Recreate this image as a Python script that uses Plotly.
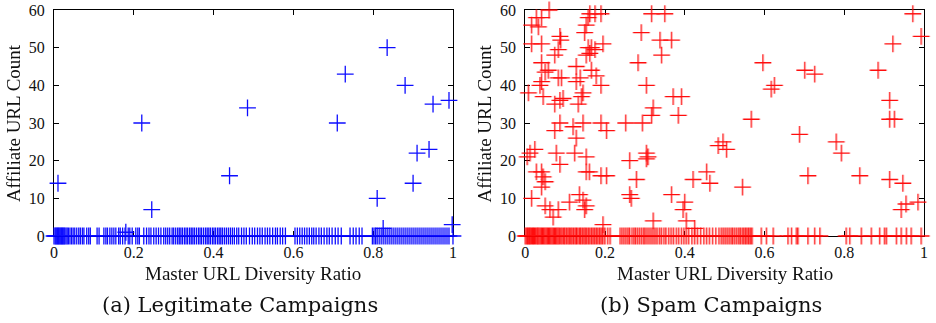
import plotly.graph_objects as go
from plotly.subplots import make_subplots

# ---- data ----
x_ticks = [0, 0.2, 0.4, 0.6, 0.8, 1]
x_tick_labels = ["0", "0.2", "0.4", "0.6", "0.8", "1"]
y_ticks = [0, 10, 20, 30, 40, 50, 60]

legit_x = [0.01, 0.18, 0.22, 0.245, 0.44, 0.485, 0.71, 0.73, 0.81, 0.825, 0.835,
           0.88, 0.90, 0.91, 0.94, 0.95, 0.99, 0.998]
legit_y = [14, 1, 30, 7, 16, 34, 30, 43, 10, 2, 50, 40, 14, 22, 23, 35, 36, 3]
legit_zero_x = [0.0, 0.003, 0.005, 0.007, 0.009, 0.011, 0.013, 0.015, 0.017, 0.019, 0.021,
                0.023, 0.025, 0.027, 0.03, 0.033, 0.036, 0.04, 0.044, 0.048, 0.052, 0.057,
                0.062, 0.066, 0.071, 0.075, 0.082, 0.087, 0.091, 0.108, 0.113, 0.125, 0.13,
                0.134, 0.14, 0.145, 0.15, 0.155, 0.162, 0.166, 0.172, 0.178, 0.186, 0.19,
                0.196, 0.205, 0.21, 0.214, 0.225, 0.232, 0.238, 0.243, 0.25, 0.256, 0.262,
                0.268, 0.275, 0.28, 0.285, 0.29, 0.296, 0.3, 0.305, 0.31, 0.314, 0.318,
                0.322, 0.327, 0.331, 0.335, 0.34, 0.344, 0.348, 0.352, 0.357, 0.362, 0.366,
                0.37, 0.375, 0.38, 0.384, 0.388, 0.392, 0.397, 0.401, 0.405, 0.41, 0.414,
                0.418, 0.422, 0.427, 0.432, 0.437, 0.442, 0.447, 0.452, 0.458, 0.463, 0.47,
                0.476, 0.482, 0.49, 0.497, 0.503, 0.51, 0.516, 0.522, 0.529, 0.535, 0.541,
                0.548, 0.555, 0.56, 0.567, 0.573, 0.58, 0.604, 0.61, 0.616, 0.622, 0.628,
                0.634, 0.64, 0.646, 0.651, 0.657, 0.664, 0.67, 0.677, 0.684, 0.69, 0.697,
                0.705, 0.712, 0.72, 0.742, 0.75, 0.757, 0.765, 0.772, 0.798, 0.802, 0.806,
                0.81, 0.815, 0.82, 0.825, 0.83, 0.835, 0.84, 0.845, 0.85, 0.855, 0.86,
                0.865, 0.87, 0.875, 0.88, 0.885, 0.89, 0.895, 0.9, 0.905, 0.91, 0.915,
                0.92, 0.925, 0.93, 0.935, 0.94, 0.945, 0.95, 0.955, 0.96, 0.965, 0.97,
                0.975, 0.98, 0.985, 0.99, 1.0]

spam_x = [0.06, 0.028, 0.041, 0.016, 0.033, 0.016, 0.041, 0.041, 0.058, 0.05, 0.041,
          0.037, 0.045, 0.008, 0.012, 0.024, 0.005, 0.016, 0.028, 0.041, 0.045, 0.05,
          0.041, 0.05, 0.062, 0.07, 0.074, 0.083, 0.087, 0.089, 0.083, 0.091, 0.087,
          0.095, 0.074, 0.074, 0.087, 0.078, 0.087, 0.083, 0.12, 0.128, 0.124, 0.128,
          0.138, 0.128, 0.145, 0.141, 0.133, 0.145, 0.153, 0.153, 0.161, 0.136, 0.145,
          0.153, 0.149, 0.111, 0.153, 0.149, 0.158, 0.162, 0.175, 0.19, 0.158, 0.166,
          0.175, 0.153, 0.162, 0.166, 0.178, 0.19, 0.195, 0.19, 0.204, 0.19, 0.204,
          0.195, 0.252, 0.262, 0.262, 0.266, 0.279, 0.283, 0.291, 0.294, 0.304, 0.304,
          0.308, 0.304, 0.317, 0.321, 0.317, 0.35, 0.338, 0.367, 0.342, 0.321, 0.367,
          0.371, 0.392, 0.384, 0.4, 0.396, 0.404, 0.425, 0.421, 0.455, 0.463, 0.484,
          0.496, 0.505, 0.545, 0.567, 0.596, 0.617, 0.625, 0.688, 0.701, 0.726, 0.709,
          0.78, 0.793, 0.839, 0.885, 0.914, 0.914, 0.926, 0.922, 0.914, 0.947, 0.943,
          0.955, 0.985, 0.972, 0.993]
spam_y = [60, 58, 58, 56, 55.5, 51, 51, 46, 44, 43.5, 41, 40, 37, 38, 22, 23, 21, 10,
          17, 17, 15.7, 14.4, 13, 8, 7, 5, 48, 49.5, 53, 52, 42, 42, 36, 36.5, 35, 28,
          30, 22, 19, 7, 29, 26, 22, 45, 42, 41, 38, 37, 35, 30, 21, 17, 17, 11, 9.5,
          8, 7, 9, 56, 54, 58, 59, 59, 59, 50, 50, 49.5, 48, 48.5, 44, 42.5, 40, 51,
          30, 28, 16, 16, 3, 30, 20, 11, 10, 15, 46, 54, 30, 40, 22, 21, 20.5, 32, 34,
          59, 59, 52, 52, 48, 4, 11, 37, 37, 32, 9, 7, 4, 2, 15, 17, 14, 24, 25, 23,
          13, 31, 46, 39, 40, 27, 44, 43, 16, 25, 22, 16, 44, 36, 31, 31, 51, 15, 14,
          7, 8.5, 9, 59, 53]
spam_zero_x = [0.0, 0.003, 0.006, 0.008, 0.011, 0.013, 0.016, 0.019, 0.021, 0.024, 0.027,
               0.03, 0.032, 0.035, 0.038, 0.041, 0.044, 0.047, 0.05, 0.053, 0.056, 0.059,
               0.062, 0.065, 0.068, 0.071, 0.074, 0.077, 0.08, 0.083, 0.086, 0.09, 0.093,
               0.097, 0.1, 0.104, 0.108, 0.111, 0.115, 0.118, 0.122, 0.126, 0.129, 0.133,
               0.137, 0.14, 0.144, 0.148, 0.151, 0.155, 0.159, 0.163, 0.167, 0.171, 0.175,
               0.179, 0.183, 0.187, 0.191, 0.195, 0.2, 0.207, 0.213, 0.238, 0.243, 0.248,
               0.253, 0.258, 0.262, 0.268, 0.273, 0.277, 0.282, 0.287, 0.292, 0.297, 0.301,
               0.306, 0.311, 0.316, 0.321, 0.326, 0.331, 0.337, 0.342, 0.348, 0.353, 0.36,
               0.366, 0.372, 0.379, 0.385, 0.392, 0.398, 0.404, 0.41, 0.418, 0.425, 0.432,
               0.44, 0.448, 0.455, 0.462, 0.47, 0.478, 0.486, 0.492, 0.497, 0.502, 0.507,
               0.512, 0.517, 0.521, 0.526, 0.531, 0.536, 0.54, 0.545, 0.549, 0.553, 0.557,
               0.561, 0.565, 0.569, 0.592, 0.605, 0.622, 0.659, 0.668, 0.68, 0.684, 0.709,
               0.726, 0.739, 0.805, 0.814, 0.843, 0.868, 0.889, 0.901, 0.906, 0.931, 0.943,
               0.956, 0.968, 0.993]

x_title = "Master URL Diversity Ratio"
y_title = "Affiliate URL Count"
captions = ["(a) Legitimate Campaigns", "(b) Spam Campaigns"]

# ---- figure ----
fig = make_subplots(rows=1, cols=2, horizontal_spacing=0.0833)

font_family = "Liberation Serif, Times New Roman, serif"
cap_family = "DejaVu Serif, serif"

def add_series(col, xs, ys, zx, color):
    fig.add_trace(go.Scatter(
        x=list(zx) + list(xs), y=[0] * len(zx) + list(ys), mode="markers",
        marker=dict(symbol="cross-thin", size=12, color=color,
                    line=dict(color=color, width=1.3)),
        opacity=0.95, cliponaxis=False, showlegend=False, hoverinfo="x+y"),
        row=1, col=col)

add_series(1, legit_x, legit_y, legit_zero_x, "#0000ff")
add_series(2, spam_x, spam_y, spam_zero_x, "#ff0000")

for c in (1, 2):
    fig.update_xaxes(range=[0, 1], tickvals=x_ticks, ticktext=x_tick_labels,
                     ticks="inside", ticklen=5, tickcolor="#000", mirror="ticks",
                     showline=True, linecolor="#000", linewidth=1.2, showgrid=False,
                     zeroline=False, ticklabelstandoff=2, automargin=False,
                     tickfont=dict(family=font_family, size=16, color="#111"),
                     layer="below traces", row=1, col=c)
    fig.update_yaxes(range=[0, 60], tickvals=y_ticks, ticks="inside", ticklen=5,
                     tickcolor="#000", mirror="ticks", showline=True, linecolor="#000",
                     linewidth=1.2, showgrid=False, zeroline=False, ticklabelstandoff=5,
                     automargin=False,
                     tickfont=dict(family=font_family, size=16, color="#111"),
                     layer="below traces", row=1, col=c)

doms = [(0.0, 0.4586), (0.5417, 1.0)]
fig.update_layout(xaxis=dict(domain=list(doms[0])), xaxis2=dict(domain=list(doms[1])))

annots = []
for (d0, d1), cap in zip(doms, captions):
    mid = (d0 + d1) / 2
    annots.append(dict(x=mid, y=-0.165, xref="paper", yref="paper", text=x_title,
                       showarrow=False, xanchor="center", yanchor="middle",
                       font=dict(family=font_family, size=19, color="#111")))
    annots.append(dict(x=mid - 0.016, y=-0.305, xref="paper", yref="paper", text=cap,
                       showarrow=False, xanchor="center", yanchor="middle",
                       font=dict(family=cap_family, size=21, color="#111")))
    annots.append(dict(x=d0 - 0.047, y=0.5, xref="paper", yref="paper", text=y_title,
                       showarrow=False, textangle=-90, xanchor="center", yanchor="middle",
                       font=dict(family=font_family, size=19, color="#111")))

fig.update_layout(width=936, height=323, margin=dict(l=54, r=12, t=10, b=87),
                  plot_bgcolor="white", paper_bgcolor="white", annotations=annots)

fig.write_html("out.html", config={"displayModeBar": False},
               post_script="document.body.style.margin='0';document.body.style.overflow='hidden';")
